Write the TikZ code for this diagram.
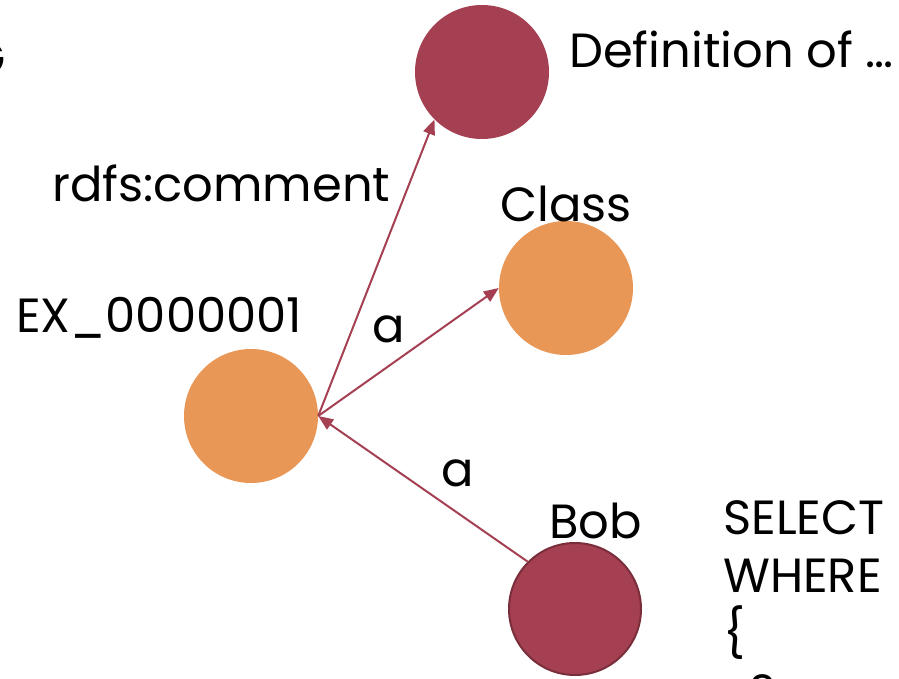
\documentclass[tikz,border=0pt]{standalone}
\usepackage{fontspec}
\setmainfont{Poppins}
\usetikzlibrary{arrows.meta}
\definecolor{maroon}{HTML}{A54052}
\definecolor{maroondark}{HTML}{7A2E3C}
\definecolor{orangenode}{HTML}{E99756}
\tikzset{
  dot/.style={circle, inner sep=0pt, minimum size=134pt},
  redn/.style={dot, fill=maroon},
  orangen/.style={dot, fill=orangenode},
  lbl/.style={inner sep=0pt, anchor=base west, font=\fontsize{48}{58}\selectfont, text=black},
  arr/.style={draw=maroon, line width=2pt, -{Triangle[length=15pt,width=12pt]}}
}
\begin{document}
\begin{tikzpicture}[x=1pt,y=-1pt]
\useasboundingbox (0,0) rectangle (899,679);
\clip (0,0) rectangle (899,679);
\node[redn] (def) at (482,72) {};
\node[orangen] (class) at (566,288) {};
\node[orangen] (ex) at (251,416) {};
\node[redn, draw=maroondark, line width=2pt, minimum size=132pt] (bob) at (575,609) {};
\draw[arr] (ex.east) -- (def.south west);
\draw[arr] (ex.east) -- (class.west);
\draw[arr] (bob.north west) -- (ex.east);
\node[lbl] (tdef) at (569,68) {Definition of …};
\node[lbl] (tcom) at (52,202) {rdfs:comment};
\node[lbl] (tclass) at (500,222) {Class};
\node[lbl] (tex) at (16,332) {EX\_0000001};
\node[lbl] (ta1) at (372,342) {a};
\node[lbl] (ta2) at (441,486) {a};
\node[lbl] (tbob) at (549,538) {Bob};
\node[lbl] (sq1) at (723,534) {SELECT};
\node[lbl] (sq2) at (723,592) {WHERE};
\node[lbl] (sq3) at (723,650) {\{};
\node[lbl] (sq4) at (750,708) {?};
\node[lbl, anchor=base east] (tg) at (6,76) {G};
\end{tikzpicture}
\end{document}
